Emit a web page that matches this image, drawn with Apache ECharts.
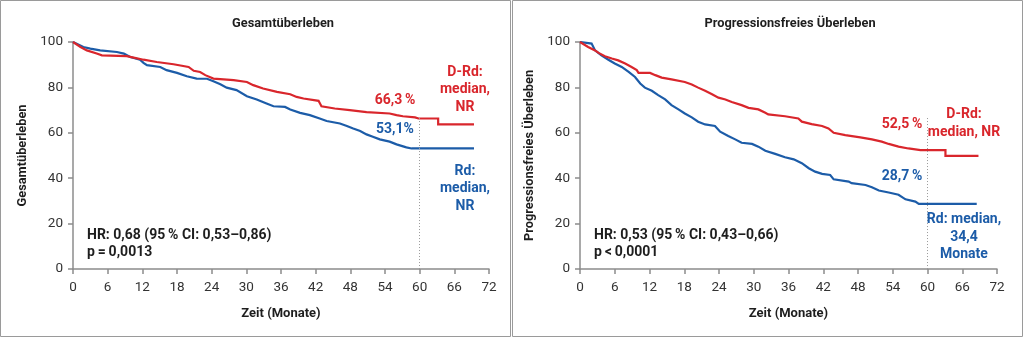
<!DOCTYPE html>
<html>
<head>
<meta charset="utf-8">
<script src="https://cdn.jsdelivr.net/npm/echarts@6/dist/echarts.min.js"></script>
<style>
html,body{margin:0;padding:0;background:#fff;}
#c{width:1024px;height:338px;}
</style>
</head>
<body>
<div id="c"></div>
<script>
// ---- Data (corner points of the Kaplan-Meier curves) ----
// Overall survival (Gesamtüberleben), D-Rd
const osDRdTime = [0, 1.3, 2.4, 4.1, 5.0, 9.3, 10.5, 12.2, 14.5, 17.4, 20.0, 20.9, 22.0, 22.9, 24.3, 27.8, 30.1, 31.2, 32.9, 35.3, 37.6, 38.7, 39.9, 42.5, 43.0, 45.3, 47.9, 50.8, 54.8, 56.0, 57.1, 59.2, 59.8, 63.2, 63.2, 69.4];
const osDRdVal  = [100, 97.8, 96.3, 94.9, 94.1, 93.8, 93.1, 92.2, 91.2, 90.2, 89.0, 87.3, 86.8, 85.4, 83.9, 83.2, 82.4, 81.0, 79.5, 78.0, 77.0, 75.8, 75.1, 74.1, 71.7, 70.7, 70.0, 69.1, 68.5, 67.8, 67.3, 66.8, 66.3, 66.3, 63.7, 63.7];
// Overall survival, Rd
const osRdTime = [0, 1.8, 3.0, 4.7, 7.6, 8.8, 9.9, 11.6, 12.2, 12.8, 15.1, 16.2, 18.0, 19.7, 21.4, 23.2, 24.3, 25.5, 26.6, 28.3, 30.1, 31.8, 33.5, 34.7, 36.7, 37.6, 39.3, 41.0, 42.7, 43.9, 46.2, 47.4, 48.5, 49.7, 50.8, 51.9, 53.1, 54.8, 56.0, 57.7, 58.6, 69.4];
const osRdVal  = [100, 97.8, 97.1, 96.3, 95.6, 94.9, 93.4, 92.2, 90.8, 89.8, 89.0, 87.6, 86.4, 84.9, 83.9, 83.8, 82.7, 81.4, 79.9, 78.8, 76.1, 74.7, 72.9, 71.7, 71.4, 70.3, 68.8, 67.8, 66.3, 65.2, 64.1, 63.0, 61.9, 60.8, 59.3, 58.3, 57.1, 56.1, 54.9, 53.6, 53.1, 53.1];

// Progression-free survival (Progressionsfreies Überleben), D-Rd
const pfsDRdTime = [0, 1.4, 2.6, 3.2, 4.3, 5.5, 6.6, 7.8, 8.9, 9.8, 10.1, 12.1, 13.0, 14.1, 15.8, 18.1, 19.3, 20.4, 21.6, 22.8, 23.9, 25.1, 26.2, 27.9, 29.1, 30.8, 32.0, 32.5, 35.4, 37.7, 38.3, 40.0, 41.8, 42.9, 43.8, 45.8, 48.4, 50.4, 52.1, 53.3, 55.0, 56.7, 58.8, 63.1, 63.1, 68.8];
const pfsDRdVal  = [100, 97.8, 96.3, 95.2, 93.7, 92.7, 91.9, 90.5, 89.0, 87.6, 86.4, 86.4, 85.4, 84.3, 83.5, 82.4, 81.3, 79.9, 78.5, 77.0, 75.5, 74.7, 73.6, 72.2, 71.0, 70.3, 68.8, 68.1, 67.3, 66.3, 64.9, 63.8, 63.0, 61.9, 60.0, 59.0, 58.0, 57.1, 56.1, 55.1, 53.9, 53.1, 52.4, 52.4, 49.8, 49.8];
// Progression-free survival, Rd
const pfsRdTime = [0, 2.0, 2.6, 3.7, 4.9, 6.0, 7.2, 8.4, 9.5, 10.4, 11.2, 12.4, 13.5, 14.7, 15.8, 17.0, 18.1, 19.3, 20.4, 21.6, 23.3, 24.2, 25.6, 26.8, 27.9, 29.7, 30.8, 32.0, 33.7, 35.4, 36.9, 38.3, 39.5, 40.6, 41.8, 43.2, 43.8, 46.4, 46.9, 49.3, 50.4, 51.6, 53.3, 55.0, 56.2, 57.9, 58.5, 68.5];
const pfsRdVal  = [100, 99.3, 96.3, 94.1, 92.2, 90.5, 89.0, 86.8, 84.6, 81.7, 79.9, 78.5, 76.6, 74.7, 72.2, 70.3, 68.5, 66.8, 64.9, 63.7, 63.0, 60.5, 58.6, 57.1, 55.6, 55.1, 53.9, 52.1, 50.7, 49.2, 48.3, 46.6, 44.4, 42.9, 41.9, 41.4, 39.5, 38.5, 37.8, 37.0, 36.0, 34.6, 33.7, 32.7, 30.7, 29.7, 28.7, 28.7];

const xTickInterval = 6;   // 0, 6, ... 72
const yTickInterval = 20;  // 0, 20, ... 100
const landmarkMonth = 60;

const panelTitles = ['Gesamtüberleben', 'Progressionsfreies Überleben'];
const yNames = ['Gesamtüberleben', 'Progressionsfreies Überleben'];
const xName = 'Zeit (Monate)';

// ---- Styling ----
const F = 'Roboto, "Noto Sans", sans-serif';
const RED = '#d9262c';
const BLUE = '#1c5ca8';
const AXIS = '#8c8c8c';
const TXT = '#1e1e1e';
const TS = '\u2009'; // thin space

function zip(t, v) { return t.map((x, i) => [x, v[i]]); }

const grids = [
  { left: 73, right: 1024 - 489, top: 42, bottom: 338 - 269 },
  { left: 580, right: 1024 - 997, top: 42, bottom: 338 - 269 }
];

function xAxis(i) {
  return {
    gridIndex: i, type: 'value', min: 0, max: 72, interval: xTickInterval,
    name: xName, nameLocation: 'middle', nameGap: 38,
    nameTextStyle: { fontFamily: F, fontWeight: 'bold', fontSize: 13, color: TXT },
    axisLine: { lineStyle: { color: AXIS, width: 1.5 } },
    axisTick: { show: true, length: 5, lineStyle: { color: AXIS, width: 1.5 } },
    axisLabel: { fontFamily: F, fontSize: 13.5, color: '#333', margin: 12 },
    splitLine: { show: false }
  };
}
function yAxis(i, gap) {
  return {
    gridIndex: i, type: 'value', min: 0, max: 100, interval: yTickInterval,
    name: yNames[i], nameLocation: 'middle', nameGap: gap, nameRotate: 90,
    nameTextStyle: { fontFamily: F, fontWeight: 'bold', fontSize: 12.8, color: TXT },
    axisLine: { show: true, lineStyle: { color: AXIS, width: 1.5 } },
    axisTick: { show: true, length: 5, lineStyle: { color: AXIS, width: 1.5 } },
    axisLabel: { fontFamily: F, fontSize: 13.5, color: '#333', margin: 10 },
    splitLine: { show: false }
  };
}
function km(i, data, color, z, withMark) {
  const s = {
    type: 'line', xAxisIndex: i, yAxisIndex: i, data: data,
    showSymbol: false, symbol: 'none', z: z,
    lineStyle: { color: color, width: 2.2, join: 'miter' }, animation: false
  };
  if (withMark) {
    s.markLine = {
      silent: true, symbol: 'none', label: { show: false },
      lineStyle: { type: [1, 2], color: '#9a9a9a', width: 1 },
      data: [[{ coord: [landmarkMonth, 66.5] }, { coord: [landmarkMonth, 0] }]]
    };
  }
  return s;
}

function txt(x, y, text, color, align, size, lh) {
  return {
    type: 'text', x: x, y: y, z: 100,
    style: {
      text: text, fill: color, font: 'bold ' + (size || 14) + 'px ' + F,
      align: align || 'center', verticalAlign: 'middle', lineHeight: lh || 17
    }
  };
}

const chart = echarts.init(document.getElementById('c'), null, { renderer: 'canvas' });
chart.setOption({
  animation: false,
  backgroundColor: '#fff',
  grid: grids,
  xAxis: [xAxis(0), xAxis(1)],
  yAxis: [yAxis(0, 44), yAxis(1, 44)],
  series: [
    km(0, zip(osRdTime, osRdVal), BLUE, 2, true),
    km(0, zip(osDRdTime, osDRdVal), RED, 3, false),
    km(1, zip(pfsRdTime, pfsRdVal), BLUE, 2, true),
    km(1, zip(pfsDRdTime, pfsDRdVal), RED, 3, false)
  ],
  graphic: [
    { type: 'rect', shape: { x: 0.5, y: 0.5, width: 510, height: 336 }, style: { fill: 'none', stroke: '#9a9a9a', lineWidth: 1 } },
    { type: 'rect', shape: { x: 512.5, y: 0.5, width: 510, height: 336 }, style: { fill: 'none', stroke: '#9a9a9a', lineWidth: 1 } },
    txt(283, 24, panelTitles[0], TXT, 'center', 12.8),
    txt(790, 24, panelTitles[1], TXT, 'center', 12.8),
    // left annotations
    txt(395, 100, '66,3' + TS + '%', RED),
    txt(395, 129, '53,1%', BLUE),
    txt(465, 89.5, 'D-Rd:\nmedian,\nNR', RED, 'center', 14, 17.5),
    txt(465, 188.5, 'Rd:\nmedian,\nNR', BLUE, 'center', 14, 17.5),
    txt(87, 235, 'HR: 0,68 (95' + TS + '% CI: 0,53–0,86)', TXT, 'left'),
    txt(87, 252, 'p' + TS + '=' + TS + '0,0013', TXT, 'left'),
    // right annotations
    txt(902, 124, '52,5' + TS + '%', RED),
    txt(902, 176, '28,7' + TS + '%', BLUE),
    txt(964, 123.5, 'D-Rd:\nmedian, NR', RED, 'center', 14, 17.5),
    txt(964, 237, 'Rd: median,\n34,4\nMonate', BLUE, 'center', 14, 17.5),
    txt(594, 235, 'HR: 0,53 (95' + TS + '% CI: 0,43–0,66)', TXT, 'left'),
    txt(594, 252, 'p' + TS + '<' + TS + '0,0001', TXT, 'left')
  ]
});
</script>
</body>
</html>
